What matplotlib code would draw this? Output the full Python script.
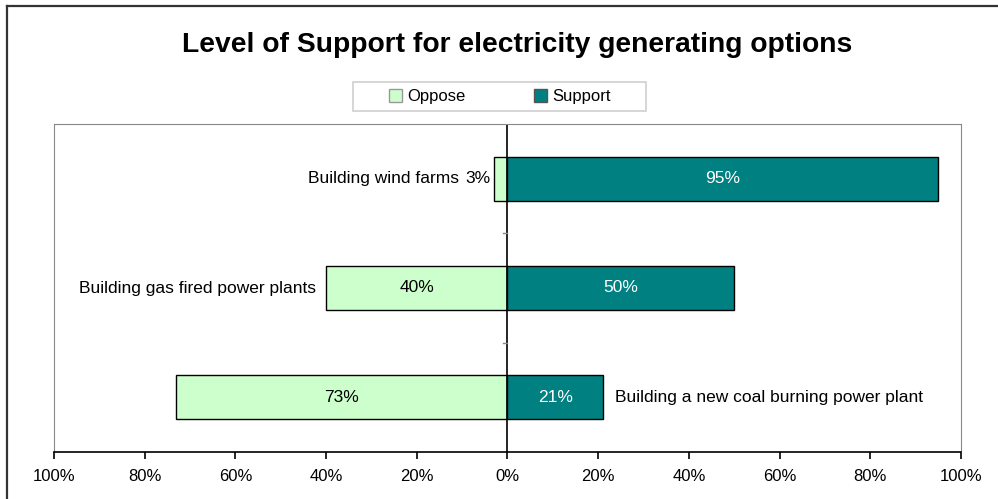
import matplotlib.pyplot as plt
from matplotlib.lines import Line2D
from matplotlib.patches import Rectangle

plt.rcParams['font.family'] = ['Liberation Sans', 'DejaVu Sans']

options = ['Building wind farms', 'Building gas fired power plants',
           'Building a new coal burning power plant']
oppose = [3, 40, 73]
support = [95, 50, 21]
ticks = [-100, -80, -60, -40, -20, 0, 20, 40, 60, 80, 100]
tick_labels = ['100%', '80%', '60%', '40%', '20%', '0%', '20%', '40%', '60%', '80%', '100%']

fig = plt.figure(figsize=(9.98, 4.99), dpi=100)
ax = fig.add_axes([54 / 998, 1 - 452 / 499, (961 - 54) / 998, (452 - 124) / 499])

# outer frame (top and left edges only are visible)
fig.lines.append(Line2D([7 / 998, 1], [1 - 6 / 499] * 2, transform=fig.transFigure,
                        color='#333333', linewidth=1.6))
fig.lines.append(Line2D([7 / 998] * 2, [0, 1 - 6 / 499], transform=fig.transFigure,
                        color='#333333', linewidth=1.6))

y = [2, 1, 0]
ax.barh(y, [-v for v in oppose], height=0.4, color='#CCFFCC', edgecolor='black', linewidth=1, label='Oppose')
ax.barh(y, support, height=0.4, color='#008080', edgecolor='black', linewidth=1, label='Support')

ax.set_xlim(-100, 100)
ax.set_ylim(-0.5, 2.5)
ax.set_xticks(ticks)
ax.set_xticklabels(tick_labels, fontsize=12)
ax.tick_params(axis='x', length=5, width=1.2, direction='out', pad=7)
ax.set_yticks([])
for s in ['top', 'right', 'left']:
    ax.spines[s].set_color('#888888')
ax.spines['bottom'].set_linewidth(1.2)

# zero axis with category ticks
ax.axvline(0, color='black', linewidth=1.2)
for b in [0.5, 1.5]:
    ax.plot([-1, 0], [b, b], color='#888888', linewidth=1)

fs = 12.5
# value labels
ax.text(-oppose[0] - 0.7, y[0], f'{oppose[0]}%', ha='right', va='center', fontsize=fs)
for yi, o in zip(y[1:], oppose[1:]):
    ax.text(-o / 2, yi, f'{o}%', ha='center', va='center', fontsize=fs)
for yi, s in zip(y, support):
    ax.text(s / 2, yi, f'{s}%', ha='center', va='center', fontsize=fs, color='white')

# category labels
ax.text(-10.8, y[0], options[0], ha='right', va='center', fontsize=fs)
ax.text(-oppose[1] - 2.3, y[1], options[1], ha='right', va='center', fontsize=fs)
ax.text(support[2] + 2.6, y[2], options[2], ha='left', va='center', fontsize=fs)

fig.text(517 / 998, 1 - 45 / 499, 'Level of Support for electricity generating options',
         ha='center', va='center', fontsize=20.3, fontweight='bold')

# legend box
fig.patches.append(Rectangle((353 / 998, 1 - 111 / 499), 293 / 998, 29 / 499,
                             transform=fig.transFigure, facecolor='white',
                             edgecolor='#d0d0d0', linewidth=1.2))
handles = [plt.Rectangle((0, 0), 1, 1, facecolor='#CCFFCC', edgecolor='#999999'),
           plt.Rectangle((0, 0), 1, 1, facecolor='#008080', edgecolor='#555555')]
fig.legend(handles, ['Oppose', 'Support'], loc='center',
           bbox_to_anchor=(500 / 998, 1 - 96.5 / 499), ncol=2, fontsize=12,
           frameon=False, handlelength=0.75, handleheight=0.85, columnspacing=4.1,
           borderpad=0.3, handletextpad=0.35, borderaxespad=0)

fig.savefig('out.png', dpi=100)
